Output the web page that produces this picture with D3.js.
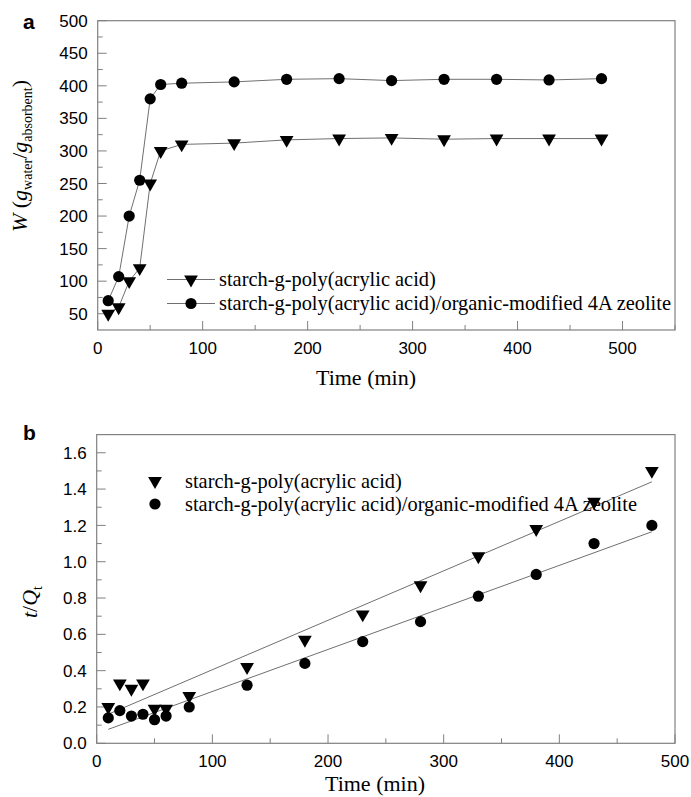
<!DOCTYPE html>
<html>
<head>
<meta charset="utf-8">
<script src="https://cdn.jsdelivr.net/npm/d3@7"></script>
<style>
  body { margin: 0; background: #fff; }
  svg { display: block; }
  .tick-label { font-family: "Liberation Sans", Arial, sans-serif; font-size: 17px; fill: #000; }
  .serif { font-family: "Liberation Serif", "Times New Roman", serif; fill: #000; }
</style>
</head>
<body>
<div id="chart"></div>
<script>
// shared sampling times (min)
const times = [10, 20, 30, 40, 50, 60, 80, 130, 180, 230, 280, 330, 380, 430, 480];

// panel a: swelling W (g/g)
const swellPAA = [50, 60, 100, 120, 250, 300, 310, 312, 317, 319, 320, 318, 319, 319, 319];
const swellZeo = [70, 107, 200, 255, 380, 402, 404, 406, 410, 411, 408, 410, 410, 409, 411];

// panel b: t/Qt
const ratioPAA = [0.20, 0.33, 0.30, 0.33, 0.19, 0.19, 0.26, 0.42, 0.57, 0.71, 0.87, 1.03, 1.18, 1.33, 1.50];
const ratioZeo = [0.14, 0.18, 0.15, 0.16, 0.13, 0.15, 0.20, 0.32, 0.44, 0.56, 0.67, 0.81, 0.93, 1.10, 1.20];

// fitted lines, endpoints
const fitPAA = [[10, 0.16], [480, 1.44]];
const fitZeo = [[10, 0.077], [480, 1.165]];

const seriesNames = [
  "starch-g-poly(acrylic acid)",
  "starch-g-poly(acrylic acid)/organic-modified 4A zeolite"
];

const width = 691, height = 797;
const axisColor = "#808080";
const lineColor = "#707070";

const svg = d3.select("#chart").append("svg")
  .attr("width", width)
  .attr("height", height);

const triangle = d3.symbol().type(d3.symbolTriangle).size(82);

function drawMarker(g, kind, x, y) {
  if (kind === "tri") {
    g.append("path")
      .attr("d", triangle())
      .attr("transform", `translate(${x},${y}) rotate(180)`)
      .attr("fill", "#000");
  } else {
    g.append("circle")
      .attr("cx", x).attr("cy", y).attr("r", 5.6)
      .attr("fill", "#000");
  }
}

// frame + inward ticks, Origin style
function drawFrame(g, x, y, xMajor, xMinor, yMajor, yMinor, xFmt, yFmt) {
  const [x0, x1] = x.range();
  const [y0, y1] = y.range(); // y0 bottom, y1 top

  g.append("rect")
    .attr("x", x0).attr("y", y1)
    .attr("width", x1 - x0).attr("height", y0 - y1)
    .attr("fill", "none")
    .attr("stroke", axisColor)
    .attr("stroke-width", 1.2);

  const tk = g.append("g").attr("stroke", axisColor).attr("stroke-width", 1);
  xMinor.forEach(v => tk.append("line")
    .attr("x1", x(v)).attr("x2", x(v)).attr("y1", y0).attr("y2", y0 - 5));
  xMajor.forEach(v => tk.append("line")
    .attr("x1", x(v)).attr("x2", x(v)).attr("y1", y0).attr("y2", y0 - 9));
  yMinor.forEach(v => tk.append("line")
    .attr("x1", x0).attr("x2", x0 + 5).attr("y1", y(v)).attr("y2", y(v)));
  yMajor.forEach(v => tk.append("line")
    .attr("x1", x0).attr("x2", x0 + 9).attr("y1", y(v)).attr("y2", y(v)));

  g.append("g").selectAll("text")
    .data(xMajor)
    .join("text")
    .attr("class", "tick-label")
    .attr("x", d => x(d))
    .attr("y", y0 + 24)
    .attr("text-anchor", "middle")
    .text(xFmt);

  g.append("g").selectAll("text")
    .data(yMajor)
    .join("text")
    .attr("class", "tick-label")
    .attr("x", x0 - 10)
    .attr("y", d => y(d))
    .attr("dy", "0.36em")
    .attr("text-anchor", "end")
    .text(yFmt);
}

// ---------- panel a ----------
const ga = svg.append("g");
const xa = d3.scaleLinear().domain([0, 550]).range([97.7, 675]);
const ya = d3.scaleLinear().domain([25, 500]).range([330, 20.7]);

drawFrame(ga, xa, ya,
  d3.range(0, 501, 100), d3.range(50, 551, 100),
  d3.range(50, 501, 50), d3.range(75, 500, 50),
  d => d, d => d);

const line = d3.line();
[[swellPAA, "tri"], [swellZeo, "dot"]].forEach(([vals, kind]) => {
  ga.append("path")
    .attr("d", line(times.map((t, i) => [xa(t), ya(vals[i])])))
    .attr("fill", "none")
    .attr("stroke", lineColor)
    .attr("stroke-width", 1);
  times.forEach((t, i) => drawMarker(ga, kind, xa(t), ya(vals[i])));
});

// legend a
[["tri", 279.5], ["dot", 303.5]].forEach(([kind, ly], i) => {
  ga.append("line")
    .attr("x1", 167).attr("x2", 215).attr("y1", ly).attr("y2", ly)
    .attr("stroke", lineColor).attr("stroke-width", 1);
  drawMarker(ga, kind, 191, ly);
  ga.append("text")
    .attr("class", "serif")
    .attr("x", 219)
    .attr("y", ly + 6.5)
    .attr("font-size", 20.4)
    .text(seriesNames[i]);
});

ga.append("text")
  .attr("class", "serif")
  .attr("x", 366).attr("y", 385)
  .attr("text-anchor", "middle")
  .attr("font-size", 22)
  .text("Time (min)");

const yTitleA = ga.append("text")
  .attr("class", "serif")
  .attr("transform", "translate(27,156) rotate(-90)")
  .attr("text-anchor", "middle")
  .attr("font-size", 22);
yTitleA.append("tspan").attr("font-style", "italic").text("W");
yTitleA.append("tspan").text(" (");
yTitleA.append("tspan").attr("font-style", "italic").text("g");
yTitleA.append("tspan").attr("font-size", 14).attr("dy", 5).text("water");
yTitleA.append("tspan").attr("dy", -5).text("/");
yTitleA.append("tspan").attr("font-style", "italic").text("g");
yTitleA.append("tspan").attr("font-size", 14).attr("dy", 5).text("absorbent");
yTitleA.append("tspan").attr("dy", -5).text(")");

ga.append("text")
  .attr("x", 23).attr("y", 29)
  .attr("font-family", "Liberation Sans, Arial, sans-serif")
  .attr("font-weight", "bold")
  .attr("font-size", 21)
  .text("a");

// ---------- panel b ----------
const gb = svg.append("g");
const xb = d3.scaleLinear().domain([0, 500]).range([96.7, 675]);
const yb = d3.scaleLinear().domain([0, 1.7]).range([743.3, 434.6]);

drawFrame(gb, xb, yb,
  d3.range(0, 501, 100), d3.range(50, 451, 100),
  d3.range(0, 17, 2).map(v => v / 10), d3.range(1, 17, 2).map(v => v / 10),
  d => d, d3.format(".1f"));

[fitPAA, fitZeo].forEach(pts => {
  gb.append("path")
    .attr("d", line(pts.map(p => [xb(p[0]), yb(p[1])])))
    .attr("fill", "none")
    .attr("stroke", lineColor)
    .attr("stroke-width", 1);
});

times.forEach((t, i) => drawMarker(gb, "tri", xb(t), yb(ratioPAA[i])));
times.forEach((t, i) => drawMarker(gb, "dot", xb(t), yb(ratioZeo[i])));

// legend b
[["tri", 481], ["dot", 504]].forEach(([kind, ly], i) => {
  drawMarker(gb, kind, 155, ly);
  gb.append("text")
    .attr("class", "serif")
    .attr("x", 185)
    .attr("y", ly + 6.5)
    .attr("font-size", 20.4)
    .text(seriesNames[i]);
});

gb.append("text")
  .attr("class", "serif")
  .attr("x", 375).attr("y", 791)
  .attr("text-anchor", "middle")
  .attr("font-size", 22)
  .text("Time (min)");

const yTitleB = gb.append("text")
  .attr("class", "serif")
  .attr("transform", "translate(37,602) rotate(-90)")
  .attr("text-anchor", "middle")
  .attr("font-size", 22);
yTitleB.append("tspan").attr("font-style", "italic").text("t");
yTitleB.append("tspan").text("/");
yTitleB.append("tspan").attr("font-style", "italic").text("Q");
yTitleB.append("tspan").attr("font-size", 14).attr("dy", 5).text("t");

gb.append("text")
  .attr("x", 23).attr("y", 440)
  .attr("font-family", "Liberation Sans, Arial, sans-serif")
  .attr("font-weight", "bold")
  .attr("font-size", 21)
  .text("b");
</script>
</body>
</html>
